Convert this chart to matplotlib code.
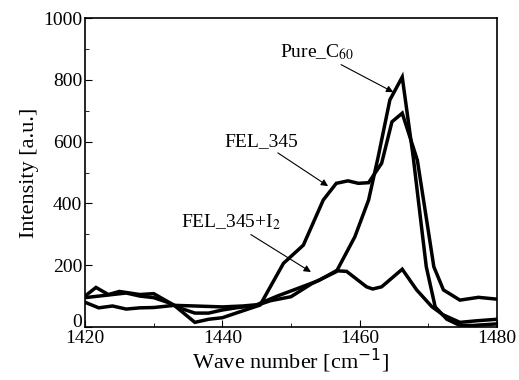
import numpy as np
import matplotlib
matplotlib.use("Agg")
import matplotlib.pyplot as plt
from matplotlib.ticker import MultipleLocator, FuncFormatter

# Raman spectra
pure_x = [1420, 1422, 1424, 1426, 1428, 1430, 1432, 1434, 1436, 1438, 1440,
          1442, 1445, 1447, 1450, 1453, 1456.6, 1459.3, 1461.3, 1462.7,
          1464.4, 1466.2, 1467.8, 1469.0, 1469.7, 1471.0, 1472.7, 1474.6,
          1476.5, 1480]
pure_y = [95, 100, 105, 110, 100, 95, 80, 60, 45, 45, 55,
          62, 70, 85, 98, 140, 179, 292, 411, 551,
          735, 809, 550, 325, 195, 65, 25, 5,
          5, 10]

fel_x = [1420, 1421.6, 1423.4, 1425, 1428, 1430, 1433, 1436, 1438, 1440,
         1442, 1445.5, 1448.9, 1451.8, 1454.7, 1456.6, 1458.3, 1459.8,
         1461.3, 1463.2, 1464.7, 1466.2, 1468.4, 1469.9, 1470.8, 1472.2,
         1474.6, 1477.3, 1480]
fel_y = [100, 128, 105, 115, 105, 108, 70, 15, 25, 30,
         45, 71, 206, 265, 411, 465, 473, 465,
         467, 530, 664, 692, 540, 325, 195, 120,
         87, 96, 90]

feli_x = [1420, 1422, 1424, 1426, 1428, 1430, 1433, 1436, 1440, 1443, 1445,
          1448, 1451, 1454, 1456.6, 1458.1, 1461.0, 1461.9, 1463.2, 1466.2,
          1468.3, 1470.5, 1472.1, 1474.6, 1477, 1480]
feli_y = [80, 62, 68, 58, 62, 63, 70, 68, 65, 68, 72,
          100, 125, 150, 182, 180, 130, 123, 130, 187,
          120, 66, 40, 15, 20, 25]

fig = plt.figure(figsize=(5.19, 3.80), dpi=100)
ax = fig.add_axes([0.1638, 0.1395, 0.7938, 0.8131])
plt.rcParams["font.family"] = ["Liberation Serif", "DejaVu Serif"]
plt.rcParams["mathtext.fontset"] = "stix"

for xs, ys in [(pure_x, pure_y), (fel_x, fel_y), (feli_x, feli_y)]:
    ax.plot(xs, ys, color="black", lw=2.5, solid_joinstyle="miter")

ax.set_xlim(1420, 1480)
ax.set_ylim(0, 1000)
ax.xaxis.set_major_locator(MultipleLocator(20))
ax.xaxis.set_minor_locator(MultipleLocator(10))
ax.yaxis.set_major_locator(MultipleLocator(200))
ax.yaxis.set_minor_locator(MultipleLocator(100))
# the "0" label is drawn separately, a bit raised so it clears "1420"
ax.yaxis.set_major_formatter(FuncFormatter(lambda v, p: "" if v == 0 else f"{v:.0f}"))
ax.tick_params(which="both", direction="in", top=False, right=False,
               labelsize=14, pad=2)
ax.tick_params(which="major", length=5)
ax.tick_params(which="minor", length=3)
for lab in ax.get_xticklabels() + ax.get_yticklabels():
    lab.set_family("Liberation Serif")
for sp in ax.spines.values():
    sp.set_linewidth(1.2)

ax.annotate("0", xy=(0, 0), xycoords=("axes fraction", "data"),
            xytext=(-2, 3.5), textcoords="offset points",
            ha="right", va="center", fontsize=14, family="Liberation Serif")

ax.set_xlabel("Wave number [cm$^{-1}$]", fontsize=16, family="Liberation Serif", labelpad=0)
ax.set_ylabel("Intensity [a.u.]", fontsize=16, family="Liberation Serif", labelpad=3)

arrow = dict(arrowstyle="-|>", color="black", lw=0.8, mutation_scale=10,
             shrinkA=0, shrinkB=0)
ax.annotate("Pure_C$_{60}$", xy=(1464.9, 760), xytext=(1453.8, 890),
            ha="center", va="center", fontsize=14, family="Liberation Serif",
            arrowprops=arrow)
ax.annotate("FEL_345", xy=(1455.4, 456), xytext=(1445.6, 600),
            ha="center", va="center", fontsize=14, family="Liberation Serif",
            arrowprops=arrow)
ax.annotate("FEL_345+I$_2$", xy=(1452.9, 178), xytext=(1441.2, 340),
            ha="center", va="center", fontsize=14, family="Liberation Serif",
            arrowprops=arrow)

fig.savefig("out.png", dpi=100)
